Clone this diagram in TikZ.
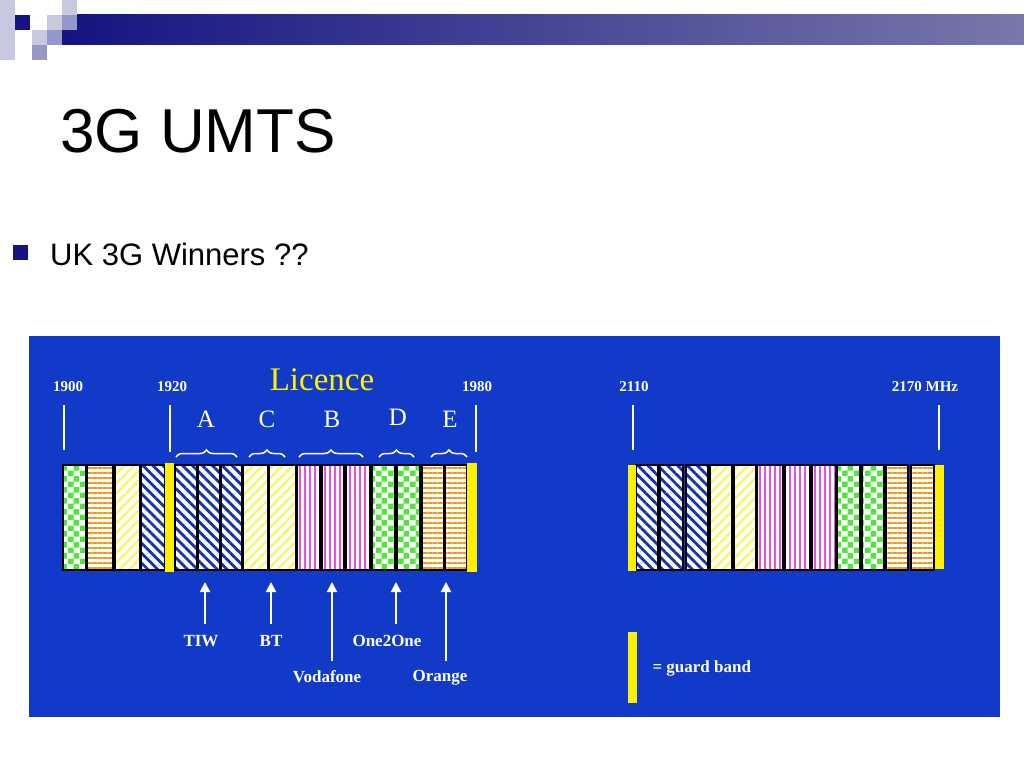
\documentclass[tikz,border=0pt]{standalone}
\usepackage{fontspec}
\setmainfont{Liberation Serif}
\newfontfamily\arialf{Liberation Sans}
\usetikzlibrary{patterns,patterns.meta,decorations.pathreplacing,arrows.meta}
\definecolor{panel}{RGB}{18,58,200}
\definecolor{navy}{RGB}{20,20,130}
\definecolor{barend}{RGB}{120,120,170}
\definecolor{sqA}{RGB}{200,200,225}
\definecolor{sqB}{RGB}{150,150,200}
\definecolor{gband}{RGB}{255,240,0}
\definecolor{orng}{RGB}{245,150,20}
\definecolor{grn}{RGB}{80,230,60}
\definecolor{mag}{RGB}{230,80,220}
\definecolor{ylw}{RGB}{250,245,110}
\definecolor{blu}{RGB}{20,50,170}
\tikzset{
 cell/.style={draw=black,line width=1.5pt,preaction={fill=white}},
 pgrn/.style={cell,pattern=checkerboard,pattern color=grn},
 porg/.style={cell,pattern={Lines[angle=0,distance=5pt,line width=2.8pt]},pattern color=orng},
 pylw/.style={cell,pattern={Lines[angle=45,distance=7pt,line width=2.5pt]},pattern color=ylw},
 pblu/.style={cell,pattern={Lines[angle=135,distance=7pt,line width=2.8pt]},pattern color=blu},
 pmag/.style={cell,pattern={Lines[angle=90,distance=5pt,line width=2pt]},pattern color=mag},
 guard/.style={fill=gband},
 freq/.style={text=white,font=\bfseries\fontsize{15}{15}\selectfont},
 lett/.style={text=white,font=\fontsize{25}{25}\selectfont},
 oper/.style={text=white,font=\bfseries\fontsize{17}{17}\selectfont},
 tick/.style={draw=white,line width=2pt},
 brc/.style={draw=white,line width=1.5pt,decorate,decoration={brace,amplitude=7pt}},
 arr/.style={draw=white,line width=2pt,-{Triangle[width=10pt,length=10pt]}}
}
\begin{document}
\begin{tikzpicture}[x=1pt,y=-1pt]
\useasboundingbox (0,0) rectangle (1024,768);
\fill[white] (0,0) rectangle (1024,768);
% header decoration
\shade[left color=navy,right color=barend] (62,15) rectangle (1024,45);
\fill[navy] (15,15) rectangle (30,30);
\fill[sqA] (0,0) rectangle (15,60);
\fill[sqA] (47,15) rectangle (62,30);
\fill[sqB] (62,15) rectangle (77,30);
\fill[sqA] (62,0) rectangle (77,15);
\fill[sqA] (32,30) rectangle (47,45);
\fill[sqB] (47,30) rectangle (62,45);
\fill[sqB] (32,45) rectangle (47,60);
\node[anchor=base west,inner sep=0,font=\arialf\fontsize{62}{62}\selectfont] (title) at (60,152) {3G UMTS};
\fill[navy] (13,245) rectangle (28,260);
\node[anchor=base west,inner sep=0,font=\arialf\fontsize{31}{31}\selectfont] (sub) at (50,265) {UK 3G Winners ??};
% panel
\fill[panel] (29,336) rectangle (1000,717);
% left band
\foreach \a/\b/\s in {63/86/pgrn,87/113/porg,115/140/pylw,141/165/pblu,
 175/197/pblu,198/220/pblu,221/242/pblu,243/268/pylw,269/296/pylw,
 297/320/pmag,322/344/pmag,346/370/pmag,372/395/pgrn,397/420/pgrn,422/444/porg,445/467/porg}
 {\path[\s] (\a,465) rectangle (\b,570);}
\fill[guard] (165,463) rectangle (174,572);
\fill[guard] (467,463) rectangle (477,572);
% right band
\foreach \a/\b/\s in {636/658/pblu,660/683/pblu,686/708/pblu,710/732/pylw,734/756/pylw,
 757/783/pmag,785/810/pmag,812/836/pmag,837/860/pgrn,862/884/pgrn,886/908/porg,911/934/porg}
 {\path[\s] (\a,465) rectangle (\b,570);}
\fill[guard] (628,465) rectangle (636,571);
\fill[guard] (935,465) rectangle (944,569);
% frequency labels and ticks
\node[freq] (f1900) at (68,387) {1900};
\node[freq] (f1920) at (172,387) {1920};
\node[freq] (f1980) at (477,387) {1980};
\node[freq] (f2110) at (634,387) {2110};
\node[freq] (f2170) at (925,387) {2170 MHz};
\node[text=gband,font=\fontsize{33}{33}\selectfont] (lic) at (322,380) {Licence};
\coordinate (t1a) at (64,405); \coordinate (t1b) at (64,450);
\coordinate (t2a) at (170,405); \coordinate (t2b) at (170,452);
\coordinate (t3a) at (476,405); \coordinate (t3b) at (476,452);
\coordinate (t4a) at (633,405); \coordinate (t4b) at (633,450);
\coordinate (t5a) at (939,405); \coordinate (t5b) at (939,450);
\foreach \t in {1,...,5}{\draw[tick] (t\t a) -- (t\t b);}
% letters and braces
\node[lett] (A) at (206,419) {A};
\node[lett] (C) at (267,419) {C};
\node[lett] (B) at (332,419) {B};
\node[lett] (D) at (398,417) {D};
\node[lett] (E) at (450,419) {E};
\draw[brc] (176,457) -- (237,457);
\draw[brc] (249,457) -- (285,457);
\draw[brc] (299,457) -- (363,457);
\draw[brc] (379,457) -- (414,457);
\draw[brc] (431,457) -- (467,457);
% operators and arrows
\node[oper] (tiw) at (201,641) {TIW};
\node[oper] (bt) at (271,641) {BT};
\node[oper] (o2o) at (387,641) {One2One};
\node[oper] (voda) at (327,677) {Vodafone};
\node[oper] (orng) at (440,678) {Orange};
\coordinate (a1) at (205,582); \coordinate (a2) at (271,582); \coordinate (a3) at (332,582);
\coordinate (a4) at (396,582); \coordinate (a5) at (446,582);
\draw[arr] (205,624) -- (a1);
\draw[arr] (271,624) -- (a2);
\draw[arr] (332,661) -- (a3);
\draw[arr] (396,624) -- (a4);
\draw[arr] (446,661) -- (a5);
% legend
\fill[gband] (628,632) rectangle (637,703);
\node[oper,anchor=west] (leg) at (649,668) {= guard band};
\end{tikzpicture}
\end{document}
